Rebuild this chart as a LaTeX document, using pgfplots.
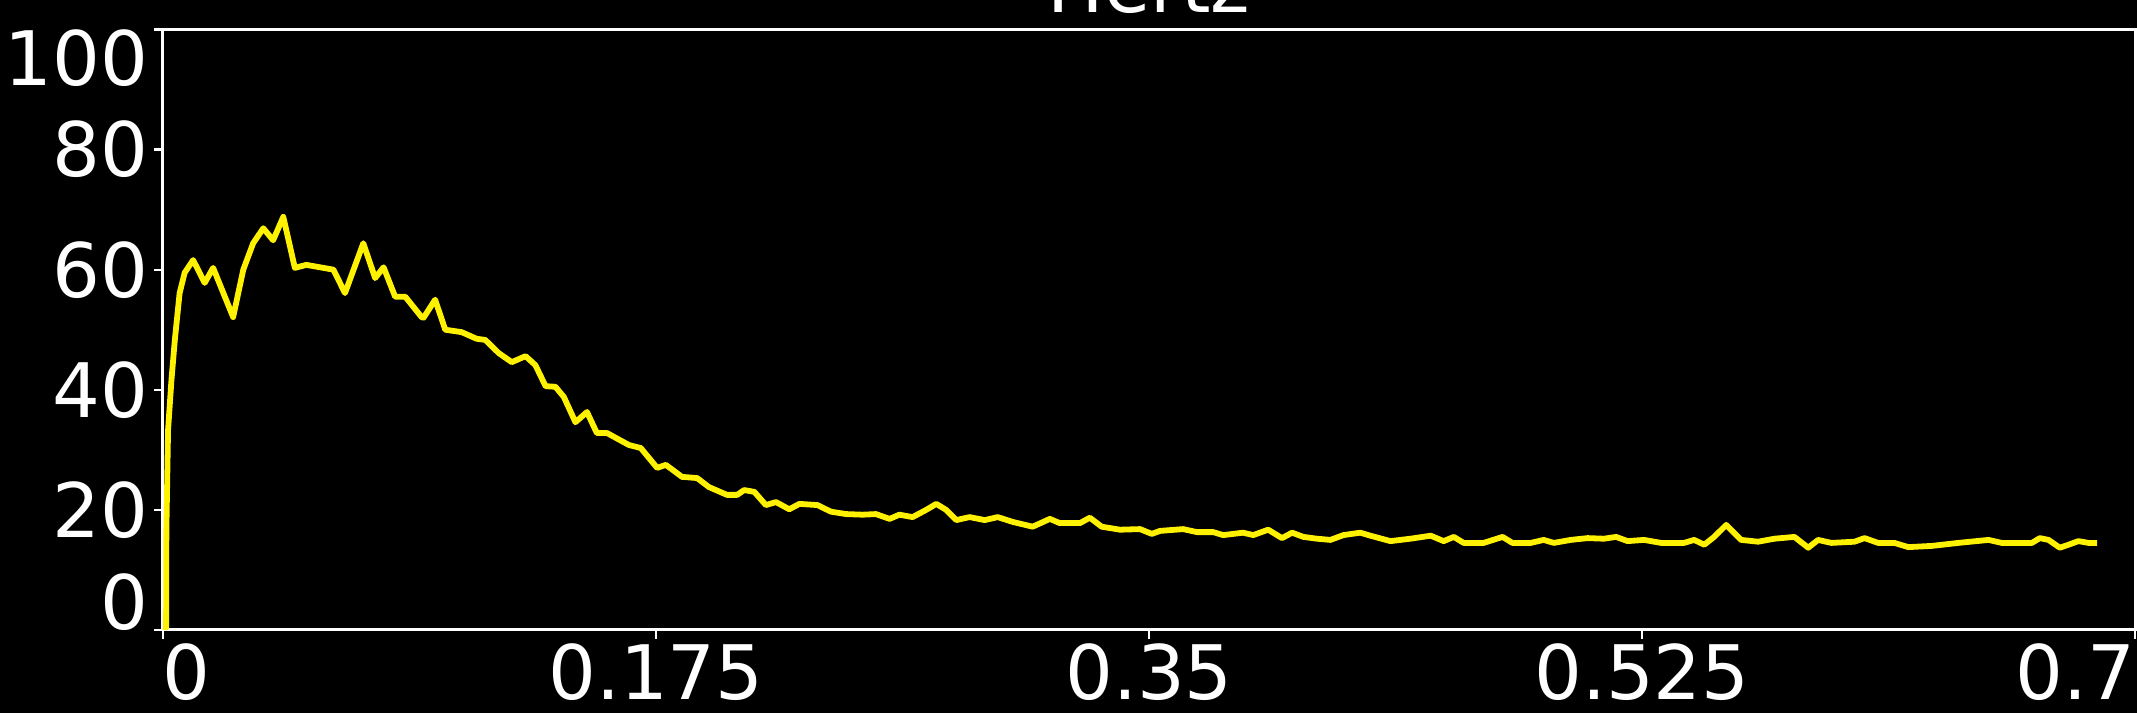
\documentclass[border=0pt]{standalone}
\usepackage{pgfplots}
\pgfplotsset{compat=1.18}
\usepackage{fontspec}
\setmainfont{DejaVu Sans}
\pgfplotstableread{
x y
0.0000 0.0
0.0011 0.3
0.0012 16.6
0.0018 33.3
0.0030 41.6
0.0042 48.3
0.0059 56.1
0.0077 59.5
0.0107 61.6
0.0148 57.8
0.0178 60.3
0.0249 52.1
0.0285 60.0
0.0320 64.4
0.0356 66.9
0.0391 64.9
0.0427 68.8
0.0468 60.3
0.0509 60.8
0.0569 60.3
0.0605 60.0
0.0646 56.1
0.0711 64.4
0.0753 58.6
0.0783 60.4
0.0824 55.5
0.0860 55.5
0.0918 52.1
0.0925 52.0
0.0966 55.0
0.1002 50.0
0.1060 49.6
0.1113 48.5
0.1144 48.3
0.1192 46.1
0.1238 44.6
0.1287 45.6
0.1322 44.1
0.1358 40.6
0.1393 40.5
0.1423 38.8
0.1464 34.6
0.1505 36.3
0.1540 32.8
0.1576 32.8
0.1654 30.8
0.1696 30.3
0.1754 27.0
0.1785 27.5
0.1842 25.5
0.1896 25.3
0.1938 23.8
0.2002 22.5
0.2038 22.5
0.2063 23.3
0.2099 23.0
0.2140 20.8
0.2176 21.3
0.2223 20.1
0.2259 21.0
0.2323 20.8
0.2371 19.7
0.2425 19.3
0.2483 19.2
0.2531 19.3
0.2579 18.5
0.2614 19.2
0.2661 18.8
0.2709 20.0
0.2745 21.0
0.2780 20.0
0.2816 18.3
0.2863 18.8
0.2917 18.3
0.2963 18.8
0.3016 18.0
0.3087 17.2
0.3148 18.5
0.3183 17.8
0.3255 17.8
0.3290 18.7
0.3332 17.2
0.3397 16.7
0.3468 16.8
0.3510 16.0
0.3539 16.5
0.3621 16.8
0.3670 16.3
0.3728 16.3
0.3763 15.8
0.3834 16.2
0.3870 15.8
0.3923 16.7
0.3972 15.3
0.4008 16.2
0.4048 15.5
0.4096 15.2
0.4144 15.0
0.4190 15.8
0.4250 16.2
0.4286 15.7
0.4357 14.8
0.4428 15.2
0.4500 15.7
0.4546 14.8
0.4582 15.5
0.4617 14.5
0.4688 14.5
0.4755 15.5
0.4790 14.5
0.4855 14.5
0.4901 15.0
0.4937 14.5
0.4997 15.0
0.5057 15.3
0.5115 15.2
0.5158 15.5
0.5199 14.8
0.5257 15.0
0.5318 14.5
0.5399 14.5
0.5435 15.0
0.5471 14.2
0.5506 15.5
0.5549 17.5
0.5602 15.0
0.5662 14.7
0.5720 15.2
0.5791 15.5
0.5840 13.7
0.5875 15.0
0.5922 14.5
0.6004 14.7
0.6040 15.3
0.6088 14.5
0.6146 14.5
0.6195 13.8
0.6278 14.0
0.6373 14.5
0.6480 15.0
0.6527 14.5
0.6634 14.5
0.6662 15.3
0.6693 15.0
0.6733 13.7
0.6764 14.2
0.6799 14.8
0.6835 14.5
0.6865 14.5
}\hertzdata
\begin{document}
\begin{tikzpicture}
\fill[black] (-40.75pt,-20.75pt) rectangle (493.5pt,157.5pt);
\begin{axis}[
  at={(0pt,0pt)}, anchor=south west,
  scale only axis, width=493pt, height=150.125pt,
  xmin=0, xmax=0.7, ymin=0, ymax=100,
  axis background/.style={fill=black},
  axis line style={white, line width=0.75pt},
  every tick/.style={white, line width=0.55pt},
  major tick length=2.25pt,
  tick align=outside,
  xtick pos=bottom, ytick pos=left,
  xtick={0,0.175,0.35,0.525,0.7},
  xticklabels={\makebox[0pt][l]{0},0.175,0.35,0.525,\makebox[0pt][r]{0.7}},
  ytick={0,20,40,60,80,100},
  yticklabels={\raisebox{0pt}[0pt][0pt]{0},20,40,60,80,\raisebox{-\height}[0pt][0pt]{100}},
  tick label style={font=\fontsize{18.8}{22}\selectfont, text=white},
  xticklabel style={inner sep=0pt, yshift=-0.9pt},
  yticklabel style={inner sep=0pt, xshift=-1.3pt},
  title={Hertz},
  every axis title/.style={at={(0.5,1)}, anchor=base, inner sep=0pt, yshift=4.2pt, font=\fontsize{18.8}{22}\selectfont, text=white},
]
\addplot[yellow, line width=1.45pt, line join=round, no markers] table[x=x,y=y] {\hertzdata};
\end{axis}
\pgfresetboundingbox
\useasboundingbox (-40.75pt,-20.75pt) rectangle (493.5pt,157.5pt);
\end{tikzpicture}
\end{document}
